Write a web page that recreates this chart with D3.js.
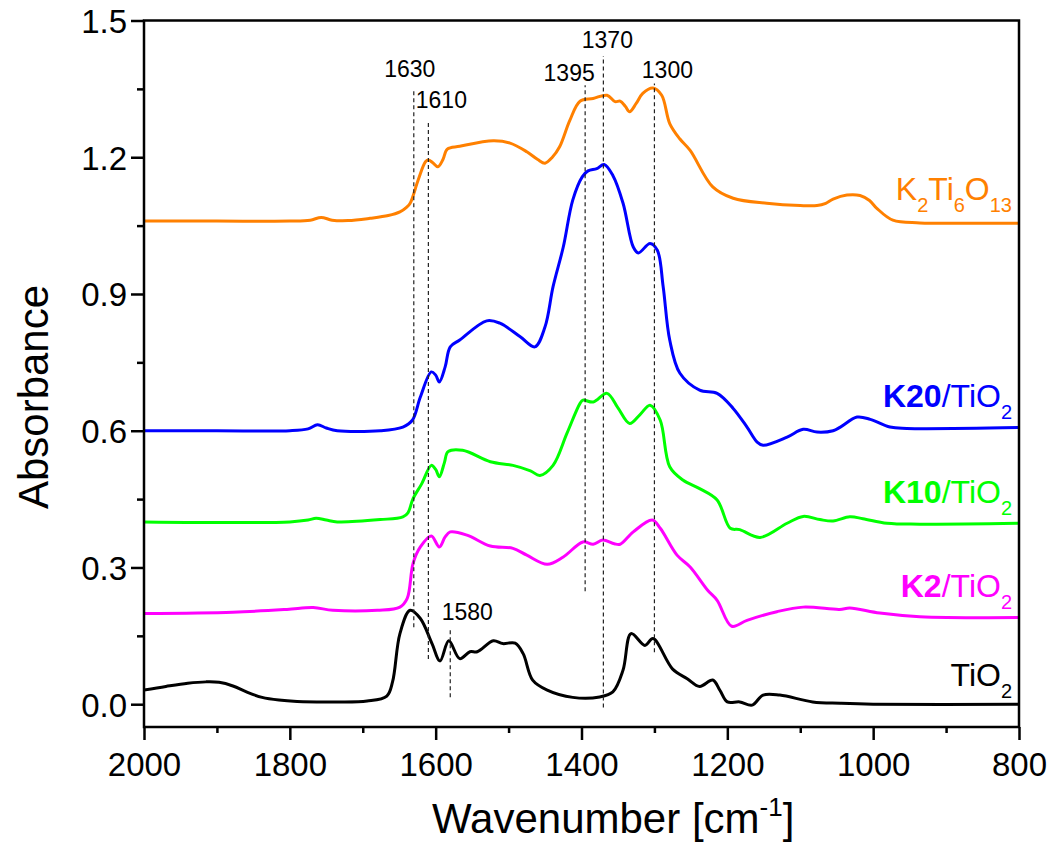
<!DOCTYPE html>
<html>
<head>
<meta charset="utf-8">
<script src="https://cdn.jsdelivr.net/npm/d3@7"></script>
<style>
  html, body { margin: 0; padding: 0; background: #fff; }
  svg { display: block; font-family: "Liberation Sans", Arial, sans-serif; }
</style>
</head>
<body>
<svg id="chart" width="1055" height="848"></svg>
<script>
// FTIR spectra, [wavenumber cm^-1, absorbance]
const k2ti6o13 = [[2000,1.060],[1900,1.060],[1800,1.060],[1772,1.062],[1757,1.068],[1742,1.062],[1720,1.061],[1690,1.066],[1665,1.072],[1649,1.080],[1640,1.090],[1635,1.099],[1624,1.150],[1614,1.190],[1610,1.194],[1604,1.188],[1597,1.179],[1590,1.195],[1584,1.218],[1567,1.224],[1521,1.236],[1498,1.231],[1475,1.212],[1460,1.195],[1450,1.187],[1440,1.200],[1430,1.223],[1416,1.281],[1402,1.323],[1384,1.329],[1365,1.336],[1354,1.322],[1347,1.323],[1340,1.312],[1334,1.300],[1325,1.318],[1316,1.340],[1302,1.352],[1290,1.336],[1279,1.274],[1265,1.240],[1251,1.215],[1220,1.135],[1192,1.110],[1146,1.099],[1100,1.094],[1077,1.094],[1065,1.099],[1055,1.108],[1036,1.117],[1018,1.116],[1005,1.105],[995,1.088],[973,1.062],[936,1.056],[870,1.055],[800,1.055]];

const k20 = [[2000,0.600],[1900,0.600],[1800,0.600],[1775,0.604],[1762,0.613],[1750,0.606],[1735,0.600],[1676,0.600],[1645,0.608],[1632,0.623],[1621,0.674],[1606,0.729],[1600,0.722],[1595,0.707],[1587,0.740],[1580,0.784],[1567,0.799],[1530,0.841],[1512,0.836],[1484,0.806],[1464,0.784],[1450,0.828],[1439,0.916],[1425,1.003],[1412,1.106],[1399,1.157],[1391,1.170],[1379,1.175],[1369,1.184],[1357,1.160],[1343,1.099],[1329,1.003],[1322,0.990],[1306,1.011],[1296,0.996],[1288,0.916],[1279,0.799],[1265,0.726],[1238,0.689],[1214,0.682],[1192,0.649],[1173,0.608],[1159,0.575],[1151,0.568],[1118,0.586],[1096,0.603],[1077,0.597],[1055,0.600],[1045,0.608],[1022,0.630],[1004,0.625],[977,0.608],[954,0.605],[800,0.607]];

const k10 = [[2000,0.400],[1800,0.400],[1775,0.404],[1764,0.408],[1750,0.404],[1735,0.400],[1676,0.405],[1645,0.411],[1638,0.420],[1631,0.451],[1619,0.484],[1606,0.524],[1600,0.515],[1595,0.499],[1588,0.530],[1583,0.554],[1563,0.557],[1525,0.532],[1494,0.524],[1470,0.512],[1457,0.502],[1439,0.524],[1420,0.594],[1402,0.660],[1398,0.667],[1384,0.663],[1365,0.682],[1350,0.650],[1334,0.616],[1320,0.635],[1306,0.656],[1292,0.623],[1279,0.521],[1261,0.492],[1238,0.473],[1214,0.448],[1196,0.386],[1183,0.383],[1155,0.366],[1118,0.397],[1096,0.412],[1073,0.405],[1055,0.402],[1032,0.411],[1014,0.407],[981,0.397],[936,0.395],[800,0.397]];

const k2 = [[2000,0.199],[1878,0.202],[1804,0.208],[1768,0.212],[1741,0.206],[1680,0.206],[1649,0.213],[1639,0.232],[1631,0.309],[1621,0.345],[1606,0.369],[1595,0.345],[1587,0.367],[1580,0.378],[1557,0.371],[1525,0.347],[1494,0.342],[1475,0.327],[1447,0.307],[1425,0.323],[1398,0.356],[1384,0.351],[1371,0.360],[1355,0.352],[1347,0.351],[1329,0.378],[1303,0.404],[1292,0.386],[1269,0.327],[1251,0.301],[1227,0.250],[1214,0.228],[1194,0.171],[1173,0.184],[1132,0.203],[1096,0.213],[1046,0.208],[1032,0.211],[991,0.200],[936,0.192],[800,0.190]];

const tio2 = [[2000,0.031],[1970,0.039],[1940,0.046],[1915,0.049],[1897,0.048],[1878,0.040],[1858,0.026],[1838,0.015],[1815,0.009],[1790,0.006],[1741,0.005],[1694,0.007],[1667,0.018],[1659,0.050],[1649,0.155],[1635,0.206],[1621,0.188],[1605,0.133],[1594,0.095],[1582,0.139],[1567,0.100],[1553,0.115],[1543,0.115],[1521,0.139],[1508,0.133],[1491,0.134],[1480,0.111],[1467,0.053],[1447,0.031],[1412,0.015],[1375,0.016],[1357,0.027],[1343,0.075],[1332,0.155],[1313,0.129],[1302,0.144],[1275,0.077],[1255,0.056],[1238,0.039],[1220,0.053],[1210,0.030],[1200,0.005],[1183,0.005],[1166,-0.002],[1151,0.020],[1128,0.020],[1083,0.005],[1045,0.002],[1000,0.000],[800,0.000]];

// Series names and colours
const seriesNames  = ["K2Ti6O13", "K20/TiO2", "K10/TiO2", "K2/TiO2", "TiO2"];
const seriesColors = ["#FF8000", "#0000FF", "#00FF00", "#FF00FF", "#000000"];
const seriesData   = [k2ti6o13, k20, k10, k2, tio2];

// Marked bands: wavenumber, dashed-line extent in absorbance
const bandWavenumbers = [1630, 1610, 1580, 1395, 1370, 1300];
const bandFrom        = [0.169, 0.099, 0.015, 0.248, -0.007, 0.114];
const bandTo          = [1.347, 1.275, 0.162, 1.358, 1.422, 1.362];

// Axis ticks
const xMajorTicks = [2000, 1800, 1600, 1400, 1200, 1000, 800];
const xMinorTicks = [1900, 1700, 1500, 1300, 1100, 900];
const yMajorTicks = [0.0, 0.3, 0.6, 0.9, 1.2, 1.5];
const yMinorTicks = [0.15, 0.45, 0.75, 1.05, 1.35];

const svg = d3.select("#chart");
const L = 144, R = 1019, T = 20.5, B = 727;

const x = d3.scaleLinear().domain([2000, 800]).range([L, R]);
const y = d3.scaleLinear().domain([-0.05, 1.5]).range([B, T]);

svg.append("defs").append("clipPath").attr("id", "plotClip")
  .append("rect").attr("x", L).attr("y", T).attr("width", R - L).attr("height", B - T);

// Spectra
const line = d3.line()
  .x(d => x(d[0]))
  .y(d => y(d[1]))
  .curve(d3.curveCatmullRom.alpha(0.5));

const plot = svg.append("g").attr("clip-path", "url(#plotClip)");
seriesData.forEach((data, i) => {
  plot.append("path")
    .datum(data)
    .attr("fill", "none")
    .attr("stroke", seriesColors[i])
    .attr("stroke-width", 3)
    .attr("stroke-linejoin", "round")
    .attr("d", line);
});

// Dashed band markers
bandWavenumbers.forEach((wn, i) => {
  svg.append("line")
    .attr("x1", x(wn)).attr("x2", x(wn))
    .attr("y1", y(bandFrom[i])).attr("y2", y(bandTo[i]))
    .attr("stroke", "#222")
    .attr("stroke-width", 1.2)
    .attr("stroke-dasharray", "4,3");
});

// Band labels: offset from line and baseline
const bandLabelDx = [-4, 13, 17, -16, 4, 13];
const bandLabelY  = [77, 108, 620, 81, 48, 78];
bandWavenumbers.forEach((wn, i) => {
  svg.append("text")
    .attr("x", x(wn) + bandLabelDx[i])
    .attr("y", bandLabelY[i])
    .attr("text-anchor", "middle")
    .attr("font-size", 23)
    .attr("fill", "#000")
    .text(wn);
});

// Axes
const xAxis = svg.append("g").attr("transform", `translate(0,${B})`)
  .call(d3.axisBottom(x).tickValues(xMajorTicks).tickSize(13).tickSizeOuter(0).tickPadding(4).tickFormat(d3.format("d")));
svg.append("g").attr("transform", `translate(0,${B})`)
  .call(d3.axisBottom(x).tickValues(xMinorTicks).tickSize(6).tickSizeOuter(0).tickFormat(""));
const yAxis = svg.append("g").attr("transform", `translate(${L},0)`)
  .call(d3.axisLeft(y).tickValues(yMajorTicks).tickSize(13).tickSizeOuter(0).tickPadding(4).tickFormat(d3.format(".1f")));
svg.append("g").attr("transform", `translate(${L},0)`)
  .call(d3.axisLeft(y).tickValues(yMinorTicks).tickSize(7).tickSizeOuter(0).tickFormat(""));

svg.selectAll(".domain").remove();
svg.selectAll(".tick line").attr("stroke", "#000").attr("stroke-width", 2.5);
xAxis.selectAll(".tick text").attr("font-size", 33).attr("fill", "#000").attr("dy", null).attr("y", 49);
yAxis.selectAll(".tick text").attr("font-size", 33).attr("fill", "#000").attr("dy", "0.36em");
svg.selectAll(".tick text").attr("font-family", "'Liberation Sans', Arial, sans-serif");

// Frame
svg.append("rect")
  .attr("x", L).attr("y", T).attr("width", R - L).attr("height", B - T)
  .attr("fill", "none").attr("stroke", "#000").attr("stroke-width", 2.5);

// Axis titles
const xt = svg.append("text")
  .attr("x", 432).attr("y", 833)
  .attr("font-size", 42).attr("fill", "#000");
xt.append("tspan").text("Wavenumber [cm");
xt.append("tspan").attr("font-size", 26).attr("dy", -17).text("-1");
xt.append("tspan").attr("dy", 17).text("]");

svg.append("text")
  .attr("transform", "translate(48,397) rotate(-90)")
  .attr("text-anchor", "middle")
  .attr("font-size", 42).attr("fill", "#000")
  .text("Absorbance");

// Series labels
const labelY = [200, 407, 503, 597, 686];
const SUB = 20, SUBDY = 12, MAIN = 32, LX = 1012;

function addLabel(i, parts) {
  const t = svg.append("text")
    .attr("x", LX).attr("y", labelY[i])
    .attr("text-anchor", "end")
    .attr("font-size", MAIN)
    .attr("fill", seriesColors[i]);
  let shifted = false;
  parts.forEach(p => {
    const s = t.append("tspan").text(p.t);
    if (p.bold) s.attr("font-weight", "bold");
    if (p.sub && !shifted) { s.attr("font-size", SUB).attr("dy", SUBDY); shifted = true; }
    else if (!p.sub && shifted) { s.attr("dy", -SUBDY); shifted = false; }
    else if (p.sub) s.attr("font-size", SUB);
  });
}

addLabel(0, [{t:"K"},{t:"2",sub:true},{t:"Ti"},{t:"6",sub:true},{t:"O"},{t:"13",sub:true}]);
addLabel(1, [{t:"K20",bold:true},{t:"/TiO"},{t:"2",sub:true}]);
addLabel(2, [{t:"K10",bold:true},{t:"/TiO"},{t:"2",sub:true}]);
addLabel(3, [{t:"K2",bold:true},{t:"/TiO"},{t:"2",sub:true}]);
addLabel(4, [{t:"TiO"},{t:"2",sub:true}]);
</script>
</body>
</html>
